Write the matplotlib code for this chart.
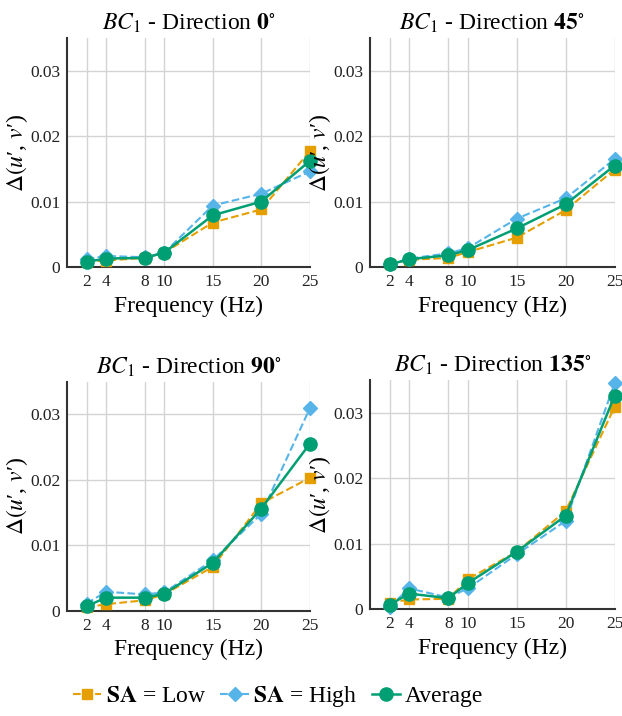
import matplotlib
matplotlib.use("Agg")
import matplotlib.pyplot as plt

plt.rcParams['font.family'] = ['Liberation Serif', 'DejaVu Serif']
plt.rcParams['mathtext.fontset'] = 'stix'

freq = [2, 4, 8, 10, 15, 20, 25]
directions = ["0", "45", "90", "135"]

low_0 = [0.0008, 0.0010, 0.0014, 0.0022, 0.0068, 0.0088, 0.0177]
high_0 = [0.0012, 0.0017, 0.0015, 0.0022, 0.0094, 0.0112, 0.0146]
avg_0 = [0.0008, 0.0013, 0.0014, 0.0022, 0.0079, 0.0100, 0.0162]

low_45 = [0.0004, 0.0011, 0.0014, 0.0023, 0.0045, 0.0087, 0.0149]
high_45 = [0.0004, 0.0013, 0.0021, 0.0029, 0.0074, 0.0105, 0.0165]
avg_45 = [0.0004, 0.0012, 0.0018, 0.0026, 0.0059, 0.0096, 0.0155]

low_90 = [0.0005, 0.0010, 0.0016, 0.0025, 0.0067, 0.0164, 0.0203]
high_90 = [0.0011, 0.0029, 0.0025, 0.0028, 0.0077, 0.0148, 0.0309]
avg_90 = [0.0007, 0.0020, 0.0020, 0.0026, 0.0073, 0.0156, 0.0255]

low_135 = [0.0010, 0.0015, 0.0016, 0.0046, 0.0088, 0.0150, 0.0309]
high_135 = [0.0004, 0.0032, 0.0018, 0.0032, 0.0084, 0.0135, 0.0345]
avg_135 = [0.0007, 0.0024, 0.0017, 0.0040, 0.0088, 0.0143, 0.0326]

lows = [low_0, low_45, low_90, low_135]
highs = [high_0, high_45, high_90, high_135]
avgs = [avg_0, avg_45, avg_90, avg_135]

yticks = [0, 0.01, 0.02, 0.03]
yticklabels = ["0", "0.01", "0.02", "0.03"]

c_low = "#E69F00"
c_high = "#56B4E9"
c_avg = "#009E73"

fig = plt.figure(figsize=(6.22, 7.16), dpi=100)
positions = [
    [0.108, 0.627, 0.390, 0.320],
    [0.595, 0.627, 0.393, 0.320],
    [0.108, 0.147, 0.390, 0.320],
    [0.595, 0.149, 0.393, 0.320],
]

handles = None
for i, pos in enumerate(positions):
    ax = fig.add_axes(pos)
    h1, = ax.plot(freq, lows[i], '--', color=c_low, marker='s', markersize=7,
                  lw=1.5, clip_on=False, zorder=3, label=r"$\mathbf{SA}$ = Low")
    h2, = ax.plot(freq, highs[i], '--', color=c_high, marker='D', markersize=7.5,
                  lw=1.5, clip_on=False, zorder=4, label=r"$\mathbf{SA}$ = High")
    h3, = ax.plot(freq, avgs[i], '-', color=c_avg, marker='o', markersize=9.5,
                  lw=1.8, clip_on=False, zorder=5, label="Average")
    handles = [h1, h2, h3]
    ax.set_xlim(0, 25)
    ax.set_ylim(0, 0.035)
    ax.set_xticks(freq)
    ax.set_xticklabels([str(f) for f in freq], fontsize=12.5)
    ax.set_yticks(yticks)
    ax.set_yticklabels(yticklabels, fontsize=12.5)
    ax.tick_params(length=0, pad=5, colors='#222222')
    ax.grid(True, color='#d4d4d4', lw=1.0)
    ax.set_axisbelow(True)
    for s in ['top', 'right']:
        ax.spines[s].set_visible(False)
    for s in ['left', 'bottom']:
        ax.spines[s].set_color('#333333')
        ax.spines[s].set_linewidth(1.5)
    ax.set_xlabel("Frequency (Hz)", fontsize=17, labelpad=4)
    ax.set_ylabel("$\\Delta(u$\u2032, $v$\u2032)", fontsize=17, labelpad=0)
    ax.set_title(r"$BC_{\mathit{1}}$ - Direction $\mathbf{" + directions[i] + r"}^{\circ}$",
                 fontsize=17, pad=6)

fig.legend(handles=handles, loc='center', bbox_to_anchor=(0.447, 0.027), ncol=3,
           frameon=False, fontsize=17, handlelength=1.2, handletextpad=0.2,
           columnspacing=0.6)

fig.savefig("out.png", dpi=100, facecolor='white')
